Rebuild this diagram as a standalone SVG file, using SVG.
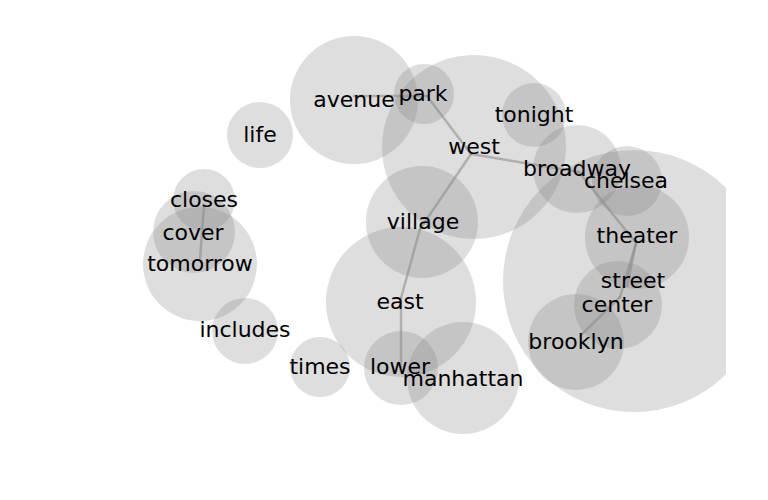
<svg xmlns="http://www.w3.org/2000/svg" width="768" height="500" viewBox="0 0 768 500">
<defs>
<clipPath id="ax"><rect x="0" y="0" width="726" height="500"/></clipPath>
<style>
.b{fill:#808080;fill-opacity:0.26;stroke:none}
.e{stroke:#888;stroke-opacity:0.55;stroke-width:2.5;fill:none;stroke-linecap:round}
text{font-family:"DejaVu Sans",sans-serif;font-size:22px;fill:#000;text-anchor:middle}
</style>
</defs>
<rect width="768" height="500" fill="#fff"/>
<g clip-path="url(#ax)">
<g id="n-street"><circle class="b" cx="634" cy="281" r="131"/></g>
<g id="n-west"><circle class="b" cx="474" cy="147" r="92"/></g>
<g id="n-avenue"><circle class="b" cx="354" cy="100" r="64"/></g>
<g id="n-park"><circle class="b" cx="424" cy="94" r="30"/></g>
<g id="n-tonight"><circle class="b" cx="534" cy="115" r="32"/></g>
<g id="n-broadway"><circle class="b" cx="577" cy="169" r="44"/></g>
<g id="n-chelsea"><circle class="b" cx="627" cy="181" r="35"/></g>
<g id="n-theater"><circle class="b" cx="637" cy="237" r="52"/></g>
<g id="n-center"><circle class="b" cx="618" cy="305" r="44"/></g>
<g id="n-brooklyn"><circle class="b" cx="576" cy="342" r="48"/></g>
<g id="n-village"><circle class="b" cx="422" cy="222" r="56"/></g>
<g id="n-east"><circle class="b" cx="401" cy="302" r="75"/></g>
<g id="n-lower"><circle class="b" cx="401" cy="368" r="37"/></g>
<g id="n-manhattan"><circle class="b" cx="463" cy="378" r="56"/></g>
<g id="n-times"><circle class="b" cx="320" cy="367" r="30"/></g>
<g id="n-includes"><circle class="b" cx="245" cy="331" r="33"/></g>
<g id="n-tomorrow"><circle class="b" cx="200" cy="264" r="57"/></g>
<g id="n-cover"><circle class="b" cx="194" cy="232" r="41"/></g>
<g id="n-closes"><circle class="b" cx="204" cy="200" r="31"/></g>
<g id="n-life"><circle class="b" cx="260" cy="135" r="33"/></g>
</g>
<g id="edges">
<line class="e" x1="354" y1="96" x2="427" y2="96"/>
<line class="e" x1="427" y1="96" x2="471" y2="154"/>
<line class="e" x1="471" y1="154" x2="579" y2="172"/>
<line class="e" x1="471" y1="154" x2="420" y2="229"/>
<line class="e" x1="420" y1="229" x2="401" y2="298"/>
<line class="e" x1="401" y1="298" x2="401" y2="367"/>
<line class="e" x1="579" y1="172" x2="636" y2="243"/>
<line class="e" x1="636" y1="243" x2="627" y2="286"/>
<line class="e" x1="636" y1="243" x2="620" y2="297"/>
<line class="e" x1="620" y1="297" x2="582" y2="334"/>
<line class="e" x1="204" y1="205" x2="200" y2="260"/>
</g>
<g id="labels">
<text x="354" y="107">avenue</text>
<text x="423" y="101">park</text>
<text x="474" y="154">west</text>
<text x="534" y="122">tonight</text>
<text x="577" y="176">broadway</text>
<text x="626" y="188">chelsea</text>
<text x="637" y="243">theater</text>
<text x="633" y="288">street</text>
<text x="617" y="312">center</text>
<text x="576" y="349">brooklyn</text>
<text x="423" y="229">village</text>
<text x="400" y="309">east</text>
<text x="400" y="374">lower</text>
<text x="463" y="386">manhattan</text>
<text x="320" y="374">times</text>
<text x="245" y="337">includes</text>
<text x="200" y="271">tomorrow</text>
<text x="193" y="240">cover</text>
<text x="204" y="207">closes</text>
<text x="260" y="142">life</text>
</g>
</svg>
